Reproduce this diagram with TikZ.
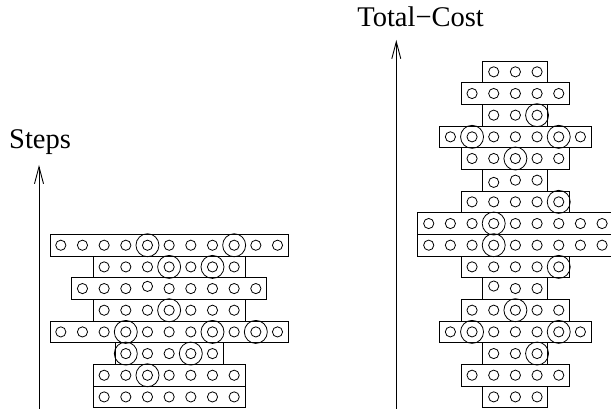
\documentclass[tikz,border=0pt]{standalone}
\usepackage{fontspec}
\setmainfont{Liberation Serif}
\usetikzlibrary{arrows.meta}
\tikzset{
  cellbox/.style={draw=black, line width=0.9pt},
  smallc/.style={draw=black, line width=0.8pt},
  bigc/.style={draw=black, line width=0.8pt},
  axisline/.style={draw=black, line width=0.9pt, -{Straight Barb[length=17pt,width=9pt,line width=0.9pt]}},
  axislabel/.style={font=\fontsize{28.5}{30}\selectfont, inner sep=0pt}
}
\begin{document}
\begin{tikzpicture}[x=1pt,y=-1pt]
\useasboundingbox (0,0) rectangle (611,409);
\def\u{21.67}
% ---- left stack (Steps) ----
\def\lx{60.8}
\def\ly{234.4}
\foreach \r/\a/\b in {1/0/10,2/2/8,3/1/9,4/2/8,5/0/10,6/3/7,7/2/8,8/2/8}{
  \draw[cellbox] ({\lx+\a*\u-\u/2},{\ly+(\r-1)*\u}) rectangle ({\lx+\b*\u+\u/2},{\ly+\r*\u});
  \foreach \i in {\a,...,\b}{
    \def\dy{0}
    \ifnum\r=3 \ifnum\i=4 \def\dy{-2.2}\fi\fi
    \draw[smallc] ({\lx+\i*\u},{\ly+(\r-0.5)*\u+\dy}) circle[radius=5.1];
  }
}
\foreach \r/\i in {1/4,1/8,2/5,2/7,4/5,5/3,5/7,5/9,6/3,6/6,7/4}{
  \draw[bigc] ({\lx+\i*\u},{\ly+(\r-0.5)*\u}) circle[radius=11.5];
}
% ---- right stack (Total-Cost) ----
\def\rx{515.4}
\def\ry{61.0}
\foreach \r/\a/\b in {1/-1/1,2/-2/2,3/-1/1,4/-3/3,5/-2/2,6/-1/1,7/-2/2,8/-4/4,9/-4/4,10/-2/2,11/-1/1,12/-2/2,13/-3/3,14/-1/1,15/-2/2,16/-1/1}{
  \draw[cellbox] ({\rx+\a*\u-\u/2},{\ry+(\r-1)*\u}) rectangle ({\rx+\b*\u+\u/2},{\ry+\r*\u});
  \foreach \i in {\a,...,\b}{
    \def\dy{0}
    \ifnum\r=6 \ifnum\i=-1 \def\dy{2.2}\fi\fi
    \ifnum\r=11 \ifnum\i=-1 \def\dy{-2.5}\fi\fi
    \draw[smallc] ({\rx+\i*\u},{\ry+(\r-0.5)*\u+\dy}) circle[radius=5.1];
  }
}
\foreach \r/\i in {3/1,4/-2,4/2,5/0,7/2,8/-1,9/-1,10/2,12/0,13/-2,13/2,14/1}{
  \draw[bigc] ({\rx+\i*\u},{\ry+(\r-0.5)*\u}) circle[radius=11.5];
}
% ---- axes ----
\coordinate (lbase) at (39,409);
\coordinate (ltip) at (39,165);
\draw[axisline] (lbase) -- (ltip);
\coordinate (rbase) at (396.3,409);
\coordinate (rtip) at (396.3,40);
\draw[axisline] (rbase) -- (rtip);
\node[axislabel, anchor=base west] (steps) at (9,148.3) {Steps};
\node[axislabel, anchor=base east] (tcost) at (484,26.7) {Total−Cost};
\end{tikzpicture}
\end{document}
